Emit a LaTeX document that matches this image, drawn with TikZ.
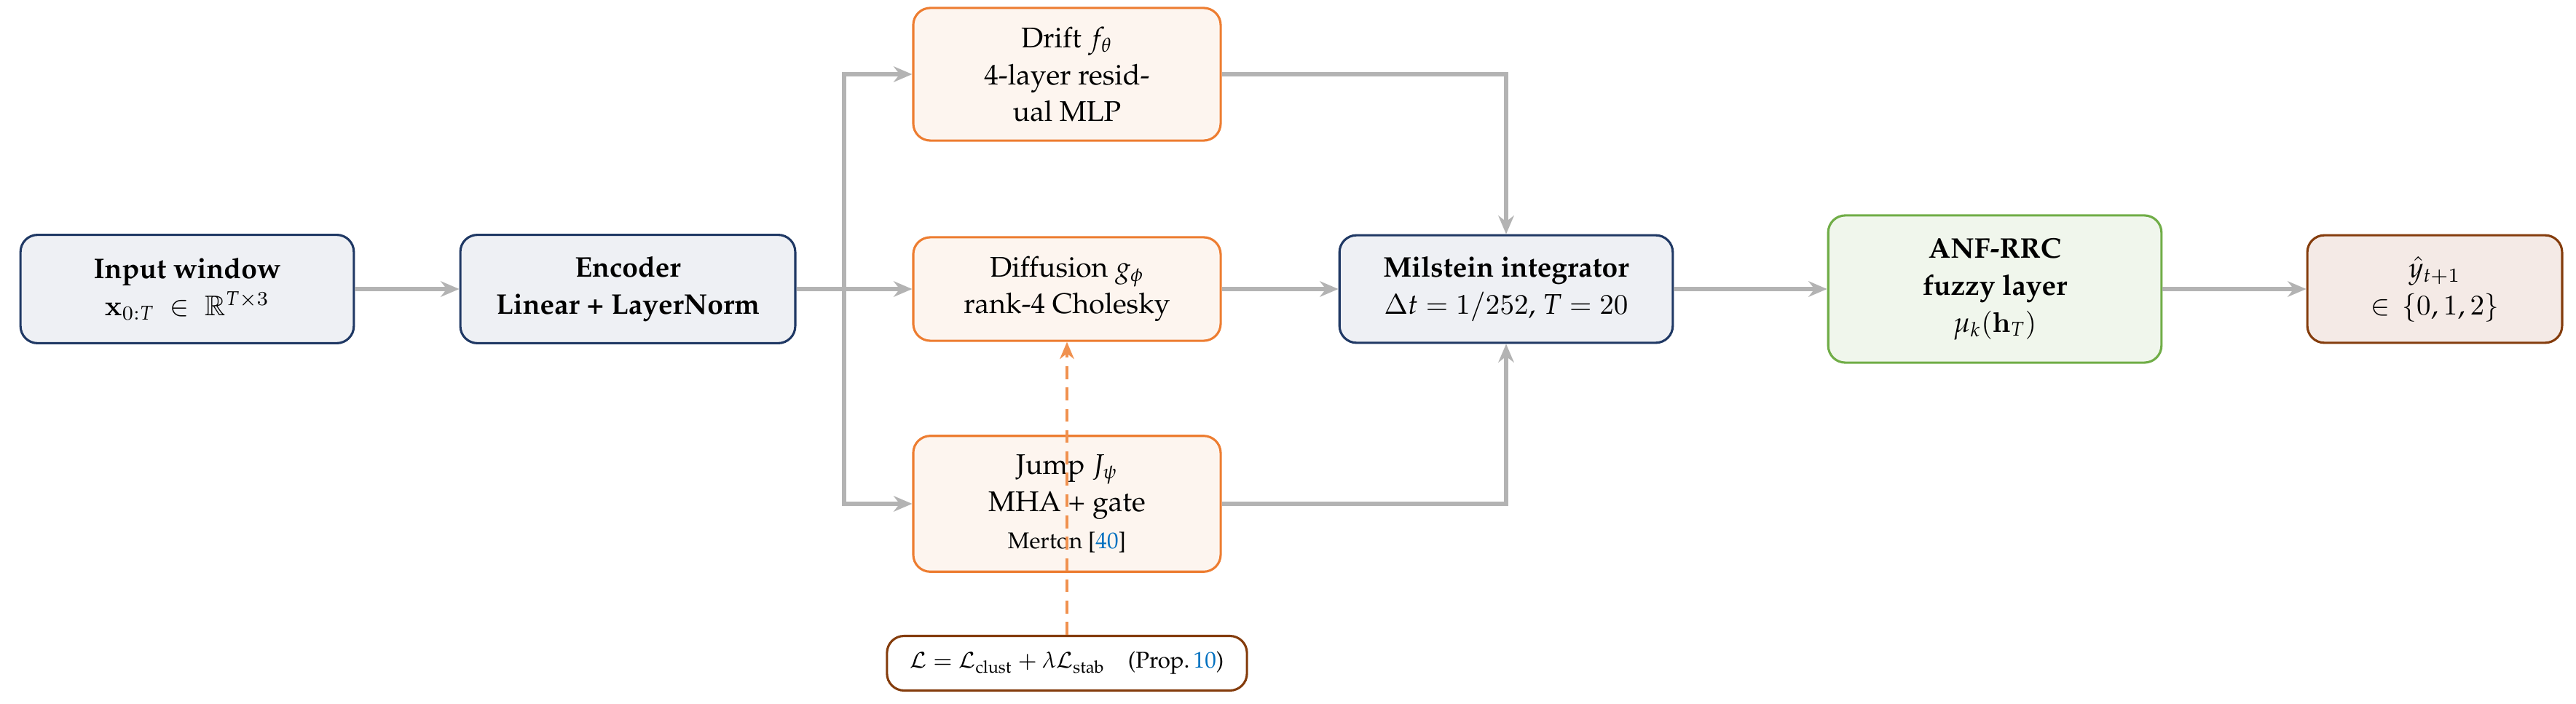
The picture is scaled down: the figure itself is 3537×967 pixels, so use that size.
\documentclass[tikz,border=0pt]{standalone}
\usepackage[T1]{fontenc}
\renewcommand{\rmdefault}{ppl}
\usepackage{amsmath,amssymb}
\DeclareSymbolFont{letters}{OML}{zplm}{m}{it}
\usetikzlibrary{arrows.meta,positioning}
\definecolor{navyb}{HTML}{1F3864}
\definecolor{navyf}{HTML}{EEF0F4}
\definecolor{orgb}{HTML}{ED7D31}
\definecolor{orgf}{HTML}{FDF5EF}
\definecolor{grnb}{HTML}{70AD47}
\definecolor{grnf}{HTML}{F0F6EC}
\definecolor{brnb}{HTML}{843C0C}
\definecolor{brnf}{HTML}{F4EAE6}
\definecolor{arrg}{HTML}{B3B3B3}
\definecolor{dasho}{HTML}{F0914F}
\definecolor{citeblue}{HTML}{0070C0}
\begin{document}
\begin{tikzpicture}[x=0.009cm,y=-0.009cm,
  box/.style={rounded corners=6pt,line width=0.8pt,align=center,inner sep=2pt,
    font=\fontsize{10}{13}\selectfont},
  navybox/.style={box,draw=navyb,fill=navyf},
  orgbox/.style={box,draw=orgb,fill=orgf},
  grnbox/.style={box,draw=grnb,fill=grnf},
  brnbox/.style={box,draw=brnb,fill=brnf},
  arr/.style={draw=arrg,line width=1.3pt,-{Stealth[length=6.5pt,width=5.5pt]}},
  dasharr/.style={draw=dasho,line width=1pt,dash pattern=on 4.5pt off 3pt,-{Stealth[length=6pt,width=5pt]}}
]
\useasboundingbox (0,0) rectangle (3537,967);
\node[navybox,minimum width=4.12cm,minimum height=1.34cm] (inp) at (257,397)
  {\textbf{Input window}\\ $\mathbf{x}_{0:T}\;\in\;\mathbb{R}^{T\times 3}$};
\node[navybox,minimum width=4.14cm,minimum height=1.34cm] (enc) at (862,397)
  {\textbf{Encoder}\\ \textbf{Linear + LayerNorm}};
\node[orgbox,minimum width=3.80cm,minimum height=1.64cm] (drift) at (1465,102)
  {Drift $f_\theta$\\ 4-layer resid-\\ ual MLP};
\node[orgbox,minimum width=3.80cm,minimum height=1.28cm] (diff) at (1465,397)
  {Diffusion $g_\phi$\\ rank-4 Cholesky};
\node[orgbox,minimum width=3.80cm,minimum height=1.68cm] (jump) at (1465,692)
  {Jump $J_\psi$\\ MHA + gate\\ {\footnotesize Merton [\textcolor{citeblue}{40}]}};
\node[navybox,minimum width=4.12cm,minimum height=1.33cm] (mil) at (2068,397)
  {\textbf{Milstein integrator}\\ $\Delta t = 1/252$, $T = 20$};
\node[grnbox,minimum width=4.12cm,minimum height=1.82cm] (anf) at (2739,397)
  {\textbf{ANF-RRC}\\ \textbf{fuzzy layer}\\ $\mu_k(\mathbf{h}_T)$};
\node[brnbox,minimum width=3.15cm,minimum height=1.33cm] (out) at (3343,397)
  {$\hat{y}_{t+1}$\\ $\in\,\{0,1,2\}$};
\node[box,draw=brnb,fill=white,minimum width=4.45cm,minimum height=0.675cm,
  font=\footnotesize] (loss) at (1465,911)
  {$\mathcal{L}=\mathcal{L}_{\text{clust}}+\lambda\mathcal{L}_{\text{stab}}$\quad(Prop.\,\textcolor{citeblue}{10})};
\coordinate (br) at (1159,397);
\draw[arr] (inp) -- (enc);
\draw[arr] (enc) -- (diff);
\draw[arr] (br) |- (drift.west);
\draw[arr] (br) |- (jump.west);
\draw[arr] (diff) -- (mil);
\draw[arr] (drift.east) -| (mil.north);
\draw[arr] (jump.east) -| (mil.south);
\draw[arr] (mil) -- (anf);
\draw[arr] (anf) -- (out);
\draw[dasharr] (loss.north) -- (diff.south);
\end{tikzpicture}
\end{document}
